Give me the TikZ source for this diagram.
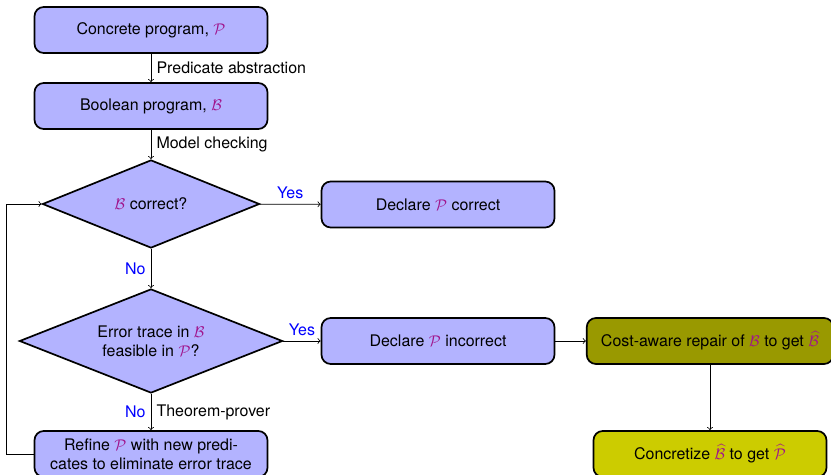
\documentclass[tikz,border=0pt]{standalone}
\usepackage{fontspec}
\setmainfont{TeX Gyre Heros}
\usetikzlibrary{shapes.geometric,arrows}
\definecolor{boxfill}{RGB}{179,179,255}
\definecolor{repairfill}{RGB}{153,153,0}
\definecolor{concfill}{RGB}{204,204,0}
\definecolor{mathc}{RGB}{160,20,140}
\newcommand{\PP}{\textcolor{mathc}{$\mathcal{P}$}}
\newcommand{\BB}{\textcolor{mathc}{$\mathcal{B}$}}
\newcommand{\PPh}{\textcolor{mathc}{$\widehat{\mathcal{P}}$}}
\newcommand{\BBh}{\textcolor{mathc}{$\widehat{\mathcal{B}}$}}
\begin{document}
\begin{tikzpicture}[x=0.645pt,y=-0.645pt,
  every node/.style={font=\fontsize{10.3}{12.4}\selectfont},
  stepbox/.style={draw=black, line width=1.1pt, rounded corners=6pt, fill=boxfill,
    minimum width=150.3pt, minimum height=29.7pt, align=center, inner sep=3pt},
  decision/.style={draw=black, line width=1.1pt, diamond, fill=boxfill,
    inner sep=0pt, aspect=2.5, align=center},
  flow/.style={->, >=to, line width=0.5pt},
  answer/.style={text=blue},
  lbl/.style={text=black}]
\useasboundingbox (0,0) rectangle (831,475);

\node[stepbox] (conc) at (151,30) {Concrete program, \PP};
\node[stepbox] (bool) at (151,106) {Boolean program, \BB};
\node[decision, minimum width=140pt, minimum height=56.8pt] (bok) at (151,204) {\BB\ correct?};
\node[stepbox] (pok) at (438,204.5) {Declare \PP\ correct};
\node[decision, minimum width=169.7pt, minimum height=67.1pt] (feas) at (151,341)
  {Error trace in \BB\\feasible in \PP?};
\node[stepbox] (pbad) at (438,341) {Declare \PP\ incorrect};
\node[stepbox, fill=repairfill, minimum width=159pt] (repair) at (710,341)
  {Cost-aware repair of \BB\ to get \BBh};
\node[stepbox, fill=concfill] (concr) at (710,454) {Concretize \BBh\ to get \PPh};
\node[stepbox] (refine) at (151,454)
  {Refine \PP\ with new predi-\\cates to eliminate error trace};

\draw[flow] (conc) -- node[lbl, right] {Predicate abstraction} (bool);
\draw[flow] (bool) -- node[lbl, right] {Model checking} (bok);
\draw[flow] (bok) -- node[answer, above] {Yes} (pok);
\draw[flow] (bok) -- node[answer, left] {No} (feas);
\draw[flow] (feas) -- node[answer, above] {Yes} (pbad);
\draw[flow] (feas) -- node[answer, left] {No} node[lbl, right] {Theorem-prover} (refine);
\draw[flow] (pbad) -- (repair);
\draw[flow] (repair) -- (concr);
\draw[flow] (refine.west) -- ++(-27.5,0) |- (bok.west);
\end{tikzpicture}
\end{document}
